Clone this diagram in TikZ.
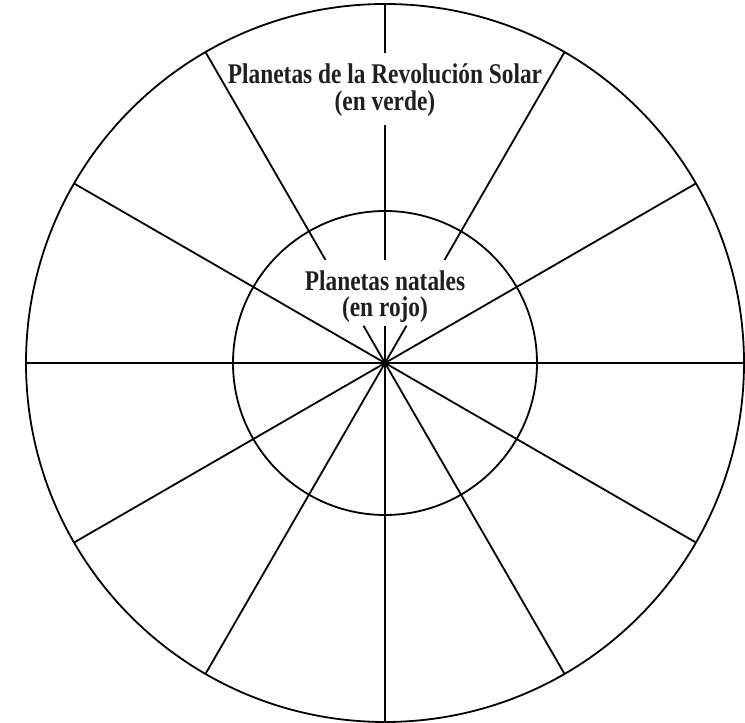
\documentclass[tikz,border=0pt]{standalone}
\usepackage{fontspec}
\usetikzlibrary{calc}
\newfontfamily\lblfont{Liberation Serif Bold}[FakeStretch=0.82]
\begin{document}
\begin{tikzpicture}[x=1pt,y=1pt,
  ring/.style={line width=1.8pt},
  spoke/.style={line width=1.8pt},
  lbl/.style={align=center, inner sep=0pt, text=black!88}]
\useasboundingbox (0,0) rectangle (745,723);
\coordinate (O) at (385,360);
\draw[ring] (O) circle (359);
\draw[ring] (O) circle (152);
\foreach \a in {0,30,150,180,210,240,270,300,330}
  \draw[spoke] (O) -- ++(\a:359);
\foreach \a in {60,120} {
  \draw[spoke] (O) -- ++(\a:43);
  \draw[spoke] ($(O)+(\a:119)$) -- ++(\a:240);
}
\draw[spoke] (O) -- ++(90:37);
\draw[spoke] ($(O)+(90:103)$) -- ($(O)+(90:238)$);
\draw[spoke] ($(O)+(90:310)$) -- ($(O)+(90:359)$);
\node[lbl, font=\lblfont\fontsize{28.5}{27}\selectfont] (rs) at (385,633)
  {Planetas de la Revolución Solar\\(en verde)};
\node[lbl, font=\lblfont\fontsize{28.5}{26}\selectfont] (pn) at (385,426.5)
  {Planetas natales\\(en rojo)};
\end{tikzpicture}
\end{document}
